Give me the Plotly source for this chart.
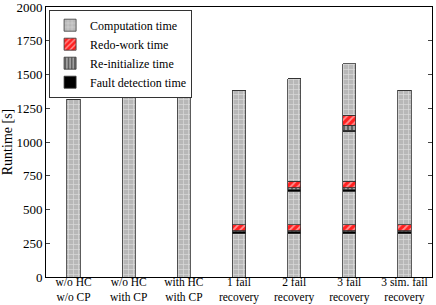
import plotly.graph_objects as go

categories = ["w/o HC<br>w/o CP", "w/o HC<br>with CP", "with HC<br>with CP", "1 fail<br>recovery",
              "2 fail<br>recovery", "3 fail<br>recovery", "3 sim. fail<br>recovery"]
y_ticks = [0, 250, 500, 750, 1000, 1250, 1500, 1750, 2000]

# stacked segments, bottom to top
comp_1 = [1318, 1338, 1338, 322, 322, 322, 322]
fault_1 = [0, 0, 0, 14, 14, 14, 14]
reinit_1 = [0, 0, 0, 5, 5, 5, 5]
redo_1 = [0, 0, 0, 45, 45, 45, 45]
comp_2 = [0, 0, 0, 996, 249, 249, 999]
fault_2 = [0, 0, 0, 0, 12, 12, 0]
reinit_2 = [0, 0, 0, 0, 13, 13, 0]
redo_2 = [0, 0, 0, 0, 48, 48, 0]
comp_3 = [0, 0, 0, 0, 760, 368, 0]
fault_3 = [0, 0, 0, 0, 0, 12, 0]
reinit_3 = [0, 0, 0, 0, 0, 36, 0]
redo_3 = [0, 0, 0, 0, 0, 75, 0]
comp_4 = [0, 0, 0, 0, 0, 379, 0]

styles = {
    "comp": dict(name="Computation time", color="#b8b8b8", pattern=dict(shape="+", fgcolor="white", size=5, solidity=0.25)),
    "redo": dict(name="Redo-work time", color="#ff2020", pattern=dict(shape="/", fgcolor="white", size=5, solidity=0.35)),
    "reinit": dict(name="Re-initialize time", color="#a0a0a0", pattern=dict(shape="|", fgcolor="black", size=4, solidity=0.4)),
    "fault": dict(name="Fault detection time", color="black", pattern=None),
}

segments = [
    ("comp", comp_1), ("fault", fault_1), ("reinit", reinit_1), ("redo", redo_1),
    ("comp", comp_2), ("fault", fault_2), ("reinit", reinit_2), ("redo", redo_2),
    ("comp", comp_3), ("fault", fault_3), ("reinit", reinit_3), ("redo", redo_3),
    ("comp", comp_4),
]

legend_rank = {"comp": 1, "redo": 2, "reinit": 3, "fault": 4}

SERIF = "Liberation Serif, Times New Roman, serif"

fig = go.Figure()
shown = set()
for kind, vals in segments:
    st = styles[kind]
    marker = dict(color=st["color"], line=dict(color="#333333", width=0.8))
    if st["pattern"]:
        marker["pattern"] = st["pattern"]
    fig.add_trace(go.Bar(
        x=categories, y=vals, name=st["name"], marker=marker, width=0.24,
        legendgroup=kind, showlegend=kind not in shown, legendrank=legend_rank[kind],
        hoverinfo="skip",
    ))
    shown.add(kind)

fig.update_layout(
    barmode="stack",
    width=436, height=305,
    margin=dict(l=46, r=4, t=7, b=28, autoexpand=False),
    paper_bgcolor="white", plot_bgcolor="white",
    font=dict(family=SERIF, size=12, color="black"),
    legend=dict(x=0.008, y=0.99, xanchor="left", yanchor="top", traceorder="normal",
                bordercolor="#333333", borderwidth=1, bgcolor="white",
                font=dict(family=SERIF, size=12), tracegroupgap=0,
                itemwidth=30),
    showlegend=True,
)
fig.update_xaxes(showline=True, linecolor="black", linewidth=1, mirror=True, ticks="",
                 tickfont=dict(family=SERIF, size=11.5), showgrid=False, automargin=False,
                 ticklabelstandoff=-6)
fig.update_yaxes(range=[0, 2000], tickmode="array", tickvals=y_ticks, showline=True,
                 linecolor="black", linewidth=1, ticklabeloverflow="allow",
                 mirror="ticks", ticks="inside", ticklen=4, showgrid=False, zeroline=False,
                 automargin=False,
                 title=dict(text="Runtime [s]", standoff=2, font=dict(family=SERIF, size=14)),
                 tickfont=dict(family=SERIF, size=13))

fig.write_html("out.html", config={"displayModeBar": False},
               post_script="document.body.style.margin='0';document.body.style.padding='0';")
